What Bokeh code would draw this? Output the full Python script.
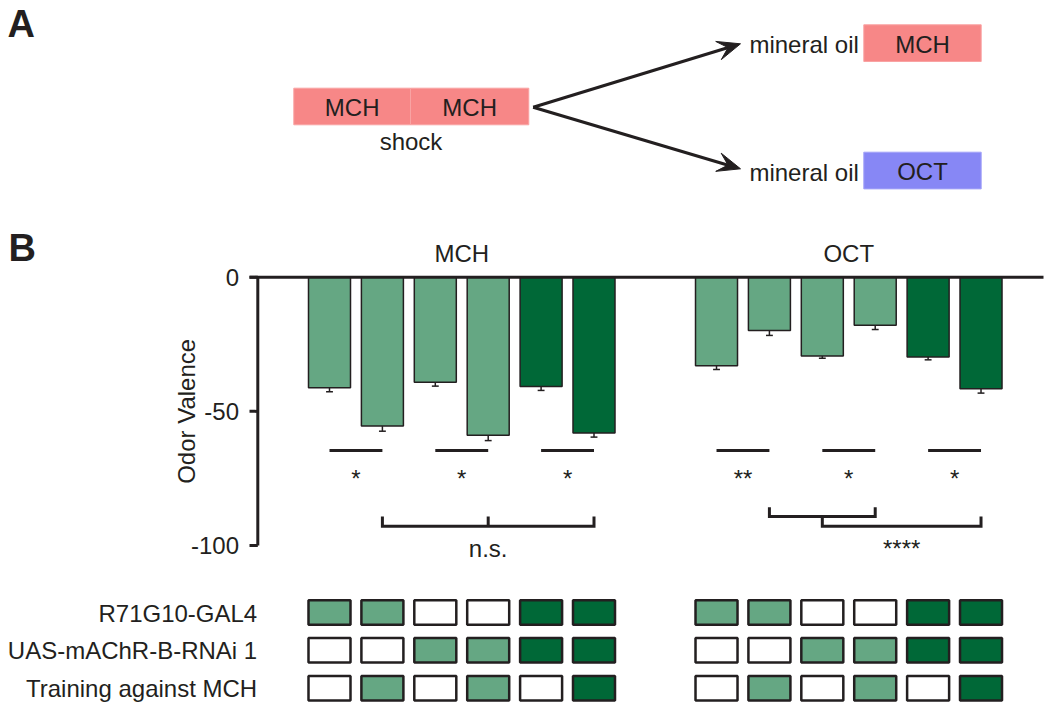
import math
from bokeh.plotting import figure
from bokeh.models import Range1d
from bokeh.core.properties import value
from bokeh.embed import file_html
from bokeh.resources import INLINE

# ---------------- data ----------------
groups = ["MCH", "OCT"]
mch_valence = [-41.2, -55.5, -39.2, -58.9, -40.7, -58.1]
mch_sem = [1.5, 1.9, 1.4, 2.0, 1.5, 1.5]
oct_valence = [-33.0, -19.9, -29.4, -17.9, -29.7, -41.6]
oct_sem = [1.4, 1.8, 0.8, 1.6, 1.1, 1.6]
bar_shade = [1, 1, 1, 1, 2, 2]
mch_pair_stars = ["*", "*", "*"]
oct_pair_stars = ["**", "*", "*"]
mch_bracket_label = "n.s."
oct_bracket_label = "****"
y_ticks = [0, -50, -100]
y_label = "Odor Valence"
row_labels = ["R71G10-GAL4", "UAS-mAChR-B-RNAi 1", "Training against MCH"]
row_gal4 = [1, 1, 0, 0, 2, 2]
row_rnai = [0, 0, 1, 1, 2, 2]
row_training = [0, 1, 0, 1, 0, 2]
train_odors = ["MCH", "MCH"]
train_note = "shock"
test_control = ["mineral oil", "mineral oil"]
test_odors = ["MCH", "OCT"]
panel_letters = ["A", "B"]

# ---------------- style / layout ----------------
FONT = "Liberation Sans"
FS = "24px"
INK = "#231f20"
SHADES = ["#FFFFFF", "#65A783", "#006837"]
ODOR_COL = {"MCH": "#F78787", "OCT": "#8787F5"}
ODOR_EDGE = {"MCH": "#F9A3A3", "OCT": "#A3A3F8"}

W, H = 1050, 709
X0, SX = 329.0, 52.9                  # bar index -> pixel
Y0, SY = 276.7, 2.683                 # valence -> pixel (downwards)
GROUP_STEP = 7.316
BAR_W = 0.794

p = figure(width=W, height=H, output_backend="svg", toolbar_location=None,
           x_axis_type=None, y_axis_type=None, min_border=0,
           x_range=Range1d(0, W), y_range=Range1d(H, 0))
p.outline_line_color = None
p.background_fill_color = "white"
p.border_fill_color = "white"
p.extra_x_ranges = {"bx": Range1d(-X0 / SX, (W - X0) / SX)}
p.extra_y_ranges = {"val": Range1d((Y0 - H) / SY, Y0 / SY)}


def txt(x, y, s, size=FS, align="center", bold=False,
        xr="default", yr="default", angle=0.0):
    p.text(x=[x], y=[y], text=[s], text_font=value(FONT),
           text_font_size=value(size), text_align=align,
           text_baseline="middle",
           text_font_style="bold" if bold else "normal",
           text_color=INK, angle=angle, x_range_name=xr, y_range_name=yr)


def gx(g, k):
    return g * GROUP_STEP + k


def val_of(px):
    return (Y0 - px) / SY


# ---------------- panel letters ----------------
txt(7, 23.5, panel_letters[0], size="38px", align="left", bold=True)
txt(8, 247, panel_letters[1], size="38px", align="left", bold=True)

# ---------------- panel A ----------------
tl, tm, tr = 293.3, 410.0, 528.3
p.quad(left=[tl, tm], right=[tm, tr], top=[87.7, 87.7], bottom=[124.3, 124.3],
       fill_color=[ODOR_COL[o] for o in train_odors],
       line_color=[ODOR_EDGE[o] for o in train_odors], line_width=1)
for cx, o in zip([(tl + tm) / 2, (tm + tr) / 2], train_odors):
    txt(cx, 106.5, o)
txt(410.5, 141, train_note)

# arrows: shaft + notched filled head
sx0, sy0 = 532.7, 106.7
HEAD_L, HEAD_W, NOTCH = 23.0, 9.5, 13.0
shaft_x0, shaft_y0, shaft_x1, shaft_y1 = [], [], [], []
head_xs, head_ys = [], []
for ex, ey in [(740.0, 43.3), (740.0, 168.3)]:
    L = math.hypot(ex - sx0, ey - sy0)
    dx, dy = (ex - sx0) / L, (ey - sy0) / L
    nx, ny = -dy, dx
    shaft_x0.append(sx0); shaft_y0.append(sy0)
    shaft_x1.append(ex - (NOTCH - 2) * dx); shaft_y1.append(ey - (NOTCH - 2) * dy)
    head_xs.append([ex, ex - HEAD_L * dx + HEAD_W * nx, ex - NOTCH * dx,
                    ex - HEAD_L * dx - HEAD_W * nx])
    head_ys.append([ey, ey - HEAD_L * dy + HEAD_W * ny, ey - NOTCH * dy,
                    ey - HEAD_L * dy - HEAD_W * ny])
p.segment(x0=shaft_x0, y0=shaft_y0, x1=shaft_x1, y1=shaft_y1,
          line_color=INK, line_width=3.2)
p.patches(xs=head_xs, ys=head_ys, fill_color=INK, line_color=INK, line_width=1)

box_tops = [24.3, 151.7]
box_h = 36.7
p.quad(left=[863.3, 863.3], right=[980.7, 980.7], top=box_tops,
       bottom=[t + box_h for t in box_tops],
       fill_color=[ODOR_COL[o] for o in test_odors],
       line_color=[ODOR_EDGE[o] for o in test_odors], line_width=1)
for t, ctl, o in zip(box_tops, test_control, test_odors):
    txt(922, t + box_h / 2 + 1, o)
    txt(858.3, t + box_h / 2 + 1.5, ctl, align="right")

# ---------------- panel B: bars ----------------
xs, tops, bots, cols, errs = [], [], [], [], []
for g, (vals, sems) in enumerate([(mch_valence, mch_sem), (oct_valence, oct_sem)]):
    for k, (v, e) in enumerate(zip(vals, sems)):
        xs.append(gx(g, k)); bots.append(v); tops.append(0)
        cols.append(SHADES[bar_shade[k]]); errs.append(e)

ends = [b - e for b, e in zip(bots, errs)]
p.segment(x0=xs, y0=bots, x1=xs, y1=ends,
          line_color=INK, line_width=1.5, x_range_name="bx", y_range_name="val")
p.segment(x0=[x - 0.065 for x in xs], y0=ends, x1=[x + 0.065 for x in xs], y1=ends,
          line_color=INK, line_width=1.5, x_range_name="bx", y_range_name="val")
p.vbar(x=xs, top=tops, bottom=bots, width=BAR_W, fill_color=cols,
       line_color=INK, line_width=1.5, x_range_name="bx", y_range_name="val")

# axis (drawn in value coordinates)
AX_X = 257.3
p.segment(x0=[AX_X], y0=[y_ticks[0]], x1=[AX_X], y1=[y_ticks[-1]],
          line_color=INK, line_width=3, y_range_name="val")
p.segment(x0=[249.0], y0=[0], x1=[1043.0], y1=[0],
          line_color=INK, line_width=3, y_range_name="val")
p.segment(x0=[249.0] * len(y_ticks), y0=y_ticks, x1=[AX_X] * len(y_ticks), y1=y_ticks,
          line_color=INK, line_width=3, y_range_name="val")
for t in y_ticks:
    txt(238.5, t, str(t), align="right", yr="val")
txt(186, -50, y_label, yr="val", angle=math.pi / 2)

# group titles
for g, name in enumerate(groups):
    txt(gx(g, 2.5), val_of(252.5), name, xr="bx", yr="val")

# pairwise significance
SIG_Y = val_of(450)
STAR_Y = val_of(478)
for g, stars in enumerate([mch_pair_stars, oct_pair_stars]):
    for j, s in enumerate(stars):
        a, b = gx(g, 2 * j), gx(g, 2 * j + 1)
        p.segment(x0=[a], y0=[SIG_Y], x1=[b], y1=[SIG_Y], line_color=INK,
                  line_width=3, x_range_name="bx", y_range_name="val")
        txt((a + b) / 2, STAR_Y, s, xr="bx", yr="val")

# brackets
BR_LO, BR_MID, BR_HI = val_of(525.7), val_of(516.0), val_of(506.7)
br_xs = [
    [gx(0, 1), gx(0, 1), gx(0, 5), gx(0, 5)],
    [gx(0, 3), gx(0, 3)],
    [gx(1, 1), gx(1, 1), gx(1, 3), gx(1, 3)],
    [gx(1, 2), gx(1, 2), gx(1, 5), gx(1, 5)],
]
br_ys = [
    [BR_MID, BR_LO, BR_LO, BR_MID],
    [BR_LO, BR_MID],
    [BR_HI, BR_MID, BR_MID, BR_HI],
    [BR_MID, BR_LO, BR_LO, BR_MID],
]
p.multi_line(xs=br_xs, ys=br_ys, line_color=INK, line_width=3, line_join="miter",
             x_range_name="bx", y_range_name="val")
txt(gx(0, 3), val_of(547.5), mch_bracket_label, xr="bx", yr="val")
txt(gx(1, 3.5), val_of(547.5), oct_bracket_label, xr="bx", yr="val")

# ---------------- genotype grid ----------------
ROW_Y = [612.0, 649.8, 687.7]
BOX_H = 24.5
for r, (lab, row) in enumerate(zip(row_labels, [row_gal4, row_rnai, row_training])):
    txt(256.7, ROW_Y[r] + 0.5, lab, align="right")
    lefts, rights, fills = [], [], []
    for g in range(len(groups)):
        for k, s in enumerate(row):
            lefts.append(gx(g, k) - BAR_W / 2)
            rights.append(gx(g, k) + BAR_W / 2)
            fills.append(SHADES[s])
    p.quad(left=lefts, right=rights, top=[ROW_Y[r] - BOX_H / 2] * len(lefts),
           bottom=[ROW_Y[r] + BOX_H / 2] * len(lefts), fill_color=fills,
           line_color=INK, line_width=2.5, x_range_name="bx")

open("out.html", "w").write(file_html(p, INLINE))
